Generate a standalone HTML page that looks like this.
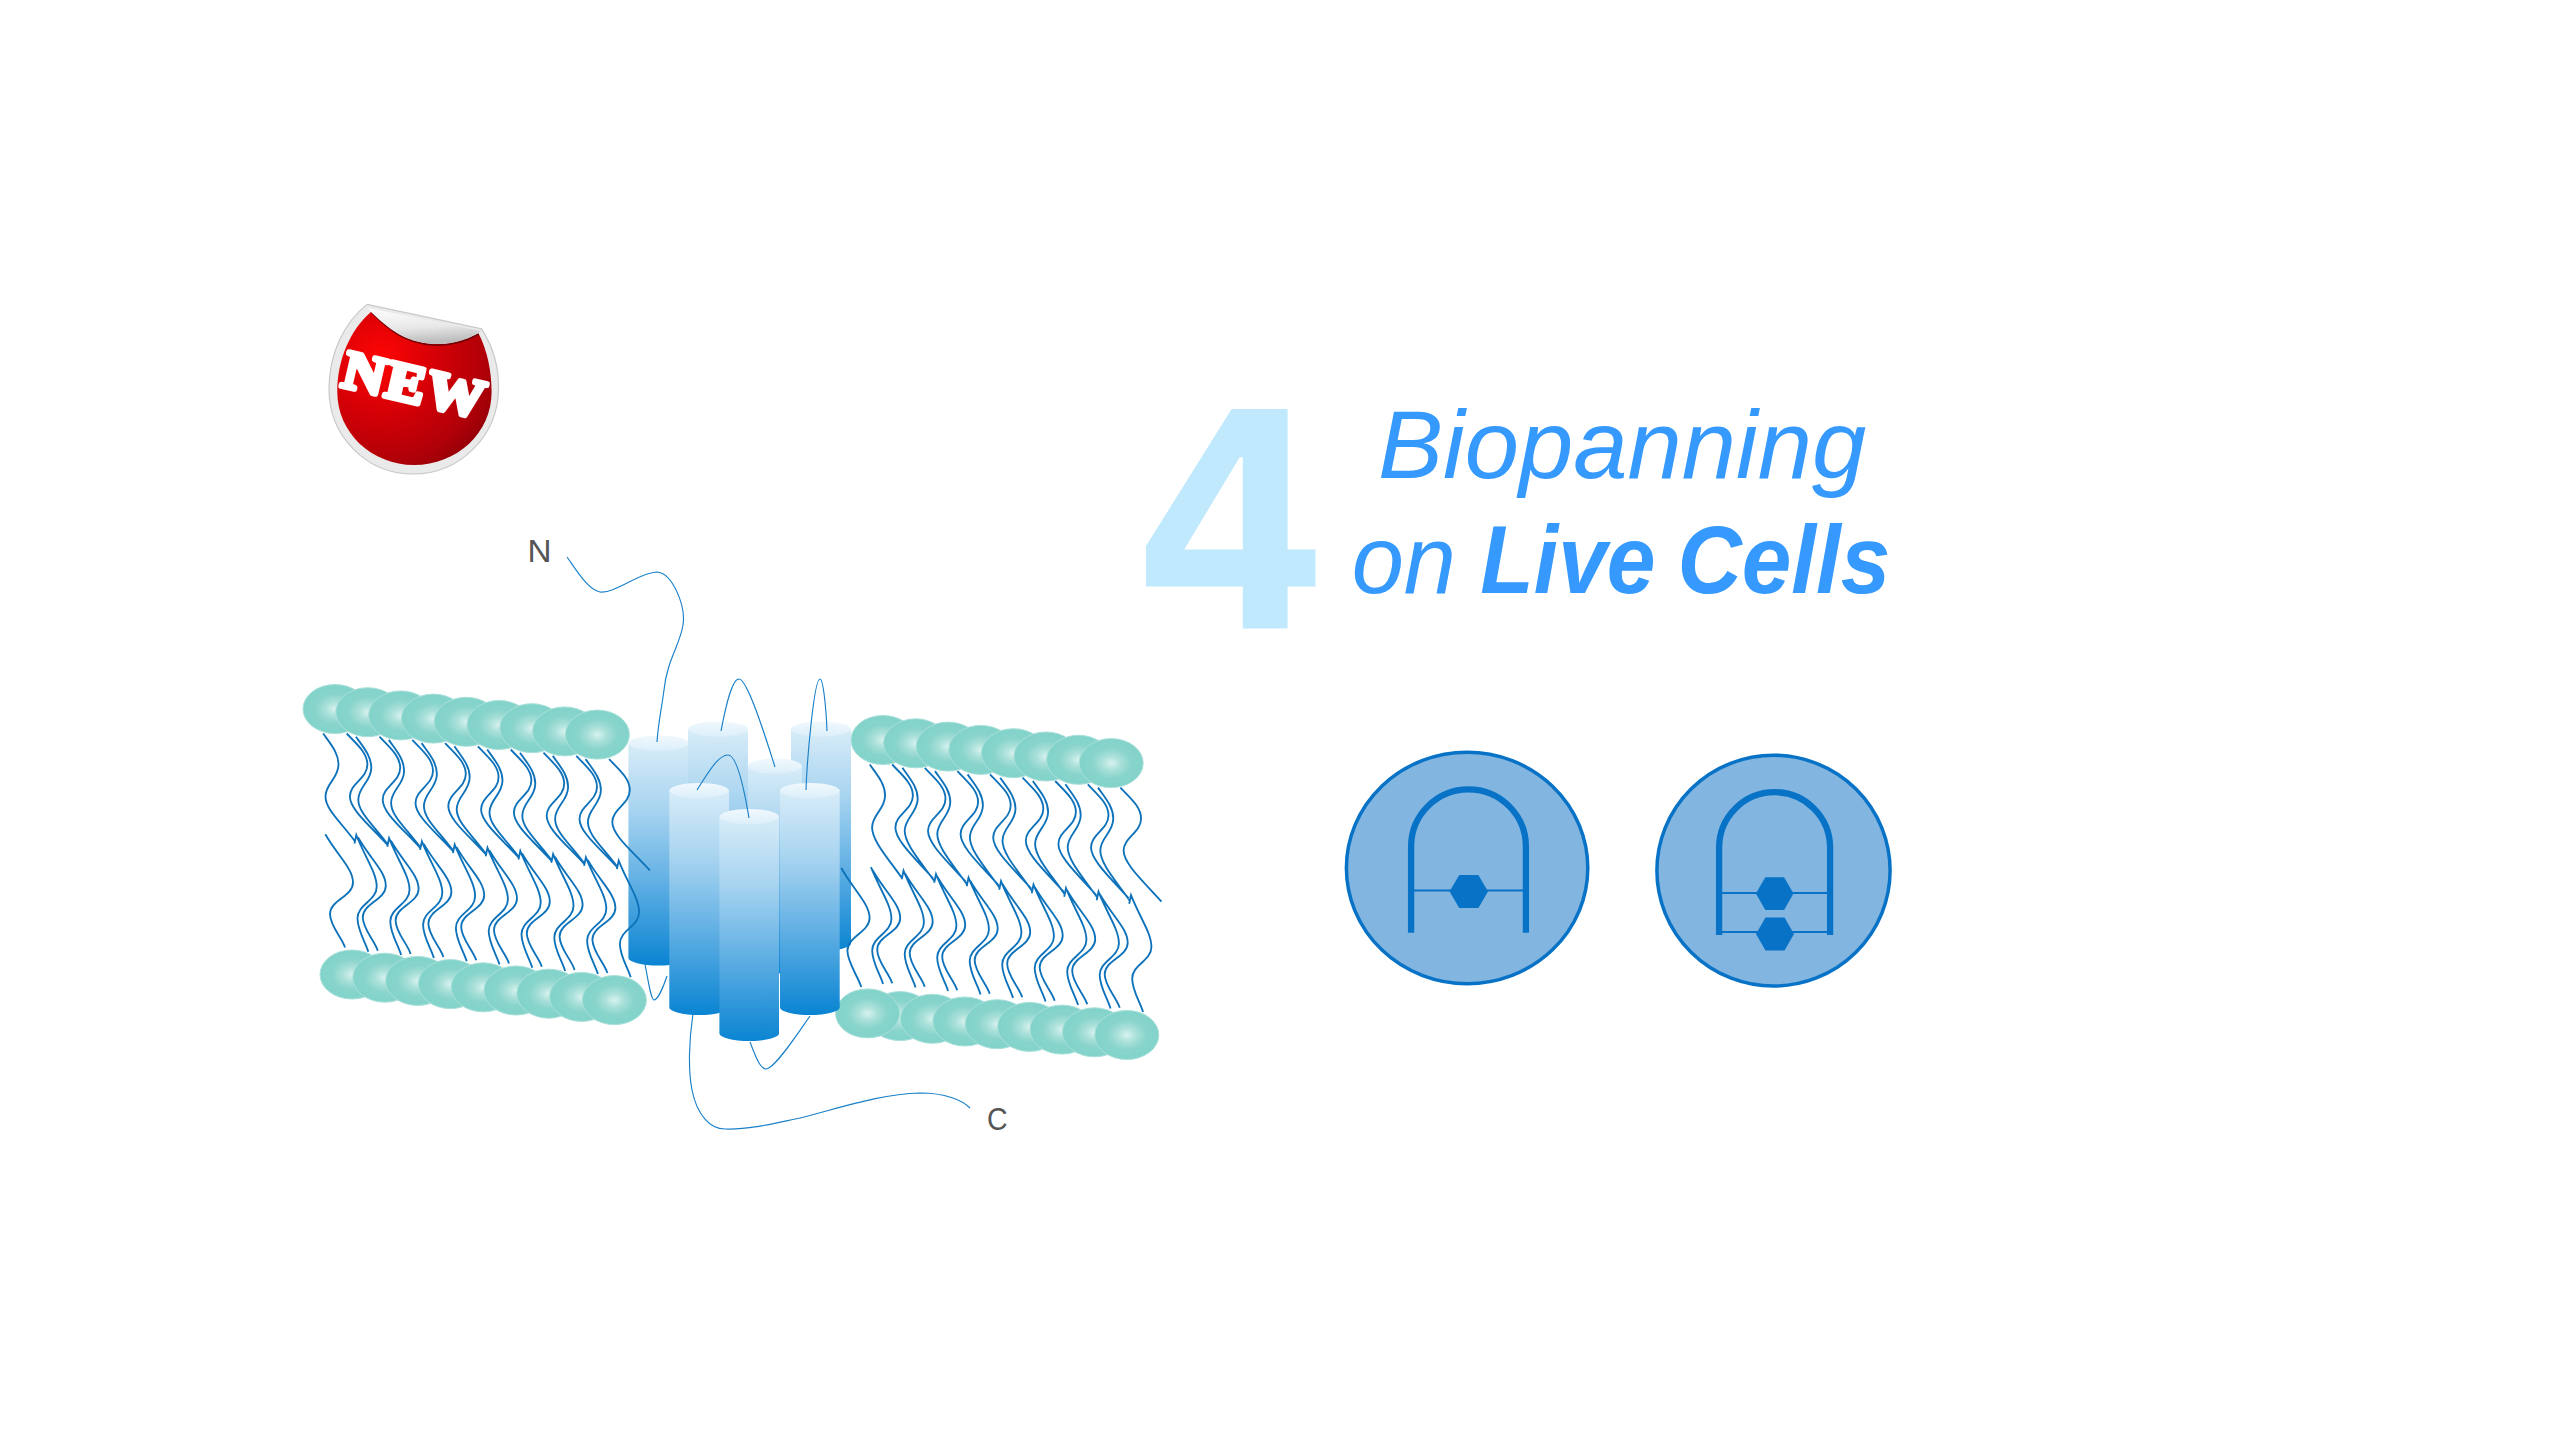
<!DOCTYPE html><html><head><meta charset="utf-8"><style>html,body{margin:0;padding:0;background:#fff;}body{width:2560px;height:1440px;overflow:hidden;} svg{display:block;}</style></head><body><svg width="2560" height="1440" viewBox="0 0 2560 1440">
<defs>
<radialGradient id="hg" cx="0.5" cy="0.5" r="0.5">
 <stop offset="0" stop-color="#D8F2EF"/>
 <stop offset="0.3" stop-color="#A9E0D9"/>
 <stop offset="0.62" stop-color="#88D4CB"/>
 <stop offset="1" stop-color="#82D3CA"/>
</radialGradient>
<linearGradient id="cg" x1="0" y1="0" x2="0" y2="1">
 <stop offset="0" stop-color="#D8ECF8"/>
 <stop offset="0.3" stop-color="#A8D4F0"/>
 <stop offset="0.62" stop-color="#62B0E4"/>
 <stop offset="1" stop-color="#0A84D2"/>
</linearGradient>
<linearGradient id="ctg" x1="0" y1="0" x2="0" y2="1">
 <stop offset="0" stop-color="#F0F8FD"/>
 <stop offset="1" stop-color="#DDEFFA"/>
</linearGradient>
<radialGradient id="red" cx="0.28" cy="0.3" r="0.85">
 <stop offset="0" stop-color="#FF0505"/>
 <stop offset="0.45" stop-color="#D20006"/>
 <stop offset="0.8" stop-color="#B00008"/>
 <stop offset="1" stop-color="#8E0008"/>
</radialGradient>
<linearGradient id="curl" x1="0" y1="0" x2="0.2" y2="1">
 <stop offset="0" stop-color="#FFFFFF"/>
 <stop offset="0.6" stop-color="#E8E8E8"/>
 <stop offset="1" stop-color="#BDBDBD"/>
</linearGradient>
</defs>
<path d="M628.4,743 L628.4,958 A30.15,7.5 0 0 0 688.6999999999999,958 L688.6999999999999,743 Z" fill="url(#cg)"/><ellipse cx="658.55" cy="743" rx="30.15" ry="7.5" fill="url(#ctg)"/>
<path d="M688,729 L688,959 A30.0,7.5 0 0 0 748,959 L748,729 Z" fill="url(#cg)"/><ellipse cx="718.0" cy="729" rx="30.0" ry="7.5" fill="url(#ctg)"/>
<path d="M791,729 L791,943.5 A30.0,7.5 0 0 0 851,943.5 L851,729 Z" fill="url(#cg)"/><ellipse cx="821.0" cy="729" rx="30.0" ry="7.5" fill="url(#ctg)"/>
<path d="M748,766 L748,966 A27.0,7.5 0 0 0 802,966 L802,766 Z" fill="url(#cg)"/><ellipse cx="775.0" cy="766" rx="27.0" ry="7.5" fill="url(#ctg)"/>
<path d="M323.2,733.5 C330.1,743.5 338.5,752.5 338.5,764.5 C338.5,778.5 325.5,783.5 325.5,796.5 C325.5,809.5 340.5,821.6 354.7,841.0 M346.7,733.5 C356.0,743.5 367.4,752.5 367.4,764.5 C367.4,778.5 349.9,783.5 349.9,796.5 C349.9,809.5 369.1,824.8 387.5,844.8 M356.0,736.7 C362.9,746.7 371.3,755.7 371.3,767.7 C371.3,781.7 358.3,786.7 358.3,799.7 C358.3,812.7 373.3,824.9 387.5,844.2 M379.5,736.7 C388.8,746.7 400.2,755.7 400.2,767.7 C400.2,781.7 382.7,786.7 382.7,799.7 C382.7,812.7 401.9,828.0 420.3,848.0 M388.8,739.9 C395.7,749.9 404.1,758.9 404.1,770.9 C404.1,784.9 391.1,789.9 391.1,802.9 C391.1,815.9 406.1,828.0 420.3,847.4 M412.3,739.9 C421.6,749.9 433.0,758.9 433.0,770.9 C433.0,784.9 415.5,789.9 415.5,802.9 C415.5,815.9 434.7,831.2 453.1,851.2 M421.6,743.1 C428.5,753.1 436.9,762.1 436.9,774.1 C436.9,788.1 423.9,793.1 423.9,806.1 C423.9,819.1 438.9,831.2 453.1,850.6 M445.1,743.1 C454.4,753.1 465.8,762.1 465.8,774.1 C465.8,788.1 448.3,793.1 448.3,806.1 C448.3,819.1 467.5,834.4 485.9,854.4 M454.4,746.3 C461.3,756.3 469.7,765.3 469.7,777.3 C469.7,791.3 456.7,796.3 456.7,809.3 C456.7,822.3 471.7,834.4 485.9,853.8 M477.9,746.3 C487.2,756.3 498.6,765.3 498.6,777.3 C498.6,791.3 481.1,796.3 481.1,809.3 C481.1,822.3 500.3,837.6 518.7,857.6 M487.2,749.5 C494.1,759.5 502.5,768.5 502.5,780.5 C502.5,794.5 489.5,799.5 489.5,812.5 C489.5,825.5 504.5,837.6 518.7,857.0 M510.7,749.5 C520.0,759.5 531.4,768.5 531.4,780.5 C531.4,794.5 513.9,799.5 513.9,812.5 C513.9,825.5 533.1,840.8 551.5,860.8 M520.0,752.7 C526.9,762.7 535.3,771.7 535.3,783.7 C535.3,797.7 522.3,802.7 522.3,815.7 C522.3,828.7 537.3,840.9 551.5,860.2 M543.5,752.7 C552.8,762.7 564.2,771.7 564.2,783.7 C564.2,797.7 546.7,802.7 546.7,815.7 C546.7,828.7 565.9,844.0 584.3,864.0 M552.8,755.9 C559.7,765.9 568.1,774.9 568.1,786.9 C568.1,800.9 555.1,805.9 555.1,818.9 C555.1,831.9 570.1,844.0 584.3,863.4 M576.3,755.9 C585.6,765.9 597.0,774.9 597.0,786.9 C597.0,800.9 579.5,805.9 579.5,818.9 C579.5,831.9 598.7,847.2 617.1,867.2 M585.6,759.1 C592.5,769.1 600.9,778.1 600.9,790.1 C600.9,804.1 587.9,809.1 587.9,822.1 C587.9,835.1 602.9,847.2 617.1,866.6 M609.1,759.1 C618.4,769.1 629.8,778.1 629.8,790.1 C629.8,804.1 612.3,809.1 612.3,822.1 C612.3,835.1 631.5,850.4 649.9,870.4 M325.3,834.3 C337.8,856.0 353.0,868.5 353.0,882.5 C353.0,896.5 330.0,900.0 330.0,914.0 C330.0,926.0 342.0,937.5 345.0,947.5 M354.5,843.5 L356.3,835.0 C365.5,858.3 376.7,872.7 376.7,886.7 C376.7,900.7 357.5,904.3 357.5,918.3 C357.5,930.3 365.3,941.7 368.3,951.7 M358.1,837.5 C370.6,859.2 385.8,871.7 385.8,885.7 C385.8,899.7 362.8,903.2 362.8,917.2 C362.8,929.2 374.8,940.7 377.8,950.7 M387.3,846.7 L389.1,838.2 C398.3,861.5 409.5,875.9 409.5,889.9 C409.5,903.9 390.3,907.5 390.3,921.5 C390.3,933.5 398.1,944.9 401.1,954.9 M390.9,840.7 C403.4,862.4 418.6,874.9 418.6,888.9 C418.6,902.9 395.6,906.4 395.6,920.4 C395.6,932.4 407.6,943.9 410.6,953.9 M420.1,849.9 L421.9,841.4 C431.1,864.7 442.3,879.1 442.3,893.1 C442.3,907.1 423.1,910.7 423.1,924.7 C423.1,936.7 430.9,948.1 433.9,958.1 M423.7,843.9 C436.2,865.6 451.4,878.1 451.4,892.1 C451.4,906.1 428.4,909.6 428.4,923.6 C428.4,935.6 440.4,947.1 443.4,957.1 M452.9,853.1 L454.7,844.6 C463.9,867.9 475.1,882.3 475.1,896.3 C475.1,910.3 455.9,913.9 455.9,927.9 C455.9,939.9 463.7,951.3 466.7,961.3 M456.5,847.1 C469.0,868.8 484.2,881.3 484.2,895.3 C484.2,909.3 461.2,912.8 461.2,926.8 C461.2,938.8 473.2,950.3 476.2,960.3 M485.7,856.3 L487.5,847.8 C496.7,871.1 507.9,885.5 507.9,899.5 C507.9,913.5 488.7,917.1 488.7,931.1 C488.7,943.1 496.5,954.5 499.5,964.5 M489.3,850.3 C501.8,872.0 517.0,884.5 517.0,898.5 C517.0,912.5 494.0,916.0 494.0,930.0 C494.0,942.0 506.0,953.5 509.0,963.5 M518.5,859.5 L520.3,851.0 C529.5,874.3 540.7,888.7 540.7,902.7 C540.7,916.7 521.5,920.3 521.5,934.3 C521.5,946.3 529.3,957.7 532.3,967.7 M522.1,853.5 C534.6,875.2 549.8,887.7 549.8,901.7 C549.8,915.7 526.8,919.2 526.8,933.2 C526.8,945.2 538.8,956.7 541.8,966.7 M551.3,862.7 L553.1,854.2 C562.3,877.5 573.5,891.9 573.5,905.9 C573.5,919.9 554.3,923.5 554.3,937.5 C554.3,949.5 562.1,960.9 565.1,970.9 M554.9,856.7 C567.4,878.4 582.6,890.9 582.6,904.9 C582.6,918.9 559.6,922.4 559.6,936.4 C559.6,948.4 571.6,959.9 574.6,969.9 M584.1,865.9 L585.9,857.4 C595.1,880.7 606.3,895.1 606.3,909.1 C606.3,923.1 587.1,926.7 587.1,940.7 C587.1,952.7 594.9,964.1 597.9,974.1 M587.7,859.9 C600.2,881.6 615.4,894.1 615.4,908.1 C615.4,922.1 592.4,925.6 592.4,939.6 C592.4,951.6 604.4,963.1 607.4,973.1 M616.9,869.1 L618.7,860.6 C627.9,883.9 639.1,898.3 639.1,912.3 C639.1,926.3 619.9,929.9 619.9,943.9 C619.9,955.9 627.7,967.3 630.7,977.3 M869.8,764.5 C876.7,774.5 885.1,783.5 885.1,795.5 C885.1,809.5 872.1,814.5 872.1,827.5 C872.1,840.5 887.2,857.2 901.5,877.5 M892.2,764.5 C901.5,774.5 912.9,783.5 912.9,795.5 C912.9,809.5 895.4,814.5 895.4,827.5 C895.4,840.5 914.8,858.0 933.2,878.5 M902.4,767.8 C909.3,777.8 917.7,786.8 917.7,798.8 C917.7,812.8 904.7,817.8 904.7,830.8 C904.7,843.8 919.8,860.5 934.1,880.8 M924.8,767.8 C934.1,777.8 945.5,786.8 945.5,798.8 C945.5,812.8 928.0,817.8 928.0,830.8 C928.0,843.8 947.4,861.3 965.8,881.8 M935.0,771.1 C941.9,781.1 950.3,790.1 950.3,802.1 C950.3,816.1 937.3,821.1 937.3,834.1 C937.3,847.1 952.4,863.8 966.7,884.1 M957.4,771.1 C966.7,781.1 978.1,790.1 978.1,802.1 C978.1,816.1 960.6,821.1 960.6,834.1 C960.6,847.1 980.0,864.6 998.4,885.1 M967.6,774.4 C974.5,784.4 982.9,793.4 982.9,805.4 C982.9,819.4 969.9,824.4 969.9,837.4 C969.9,850.4 985.0,867.1 999.3,887.4 M990.0,774.4 C999.3,784.4 1010.7,793.4 1010.7,805.4 C1010.7,819.4 993.2,824.4 993.2,837.4 C993.2,850.4 1012.5,867.9 1031.0,888.4 M1000.2,777.7 C1007.1,787.7 1015.5,796.7 1015.5,808.7 C1015.5,822.7 1002.5,827.7 1002.5,840.7 C1002.5,853.7 1017.6,870.4 1031.9,890.7 M1022.6,777.7 C1031.9,787.7 1043.3,796.7 1043.3,808.7 C1043.3,822.7 1025.8,827.7 1025.8,840.7 C1025.8,853.7 1045.2,871.2 1063.6,891.7 M1032.8,781.0 C1039.7,791.0 1048.1,800.0 1048.1,812.0 C1048.1,826.0 1035.1,831.0 1035.1,844.0 C1035.1,857.0 1050.2,873.7 1064.5,894.0 M1055.2,781.0 C1064.5,791.0 1075.9,800.0 1075.9,812.0 C1075.9,826.0 1058.4,831.0 1058.4,844.0 C1058.4,857.0 1077.8,874.5 1096.2,895.0 M1065.4,784.3 C1072.3,794.3 1080.7,803.3 1080.7,815.3 C1080.7,829.3 1067.7,834.3 1067.7,847.3 C1067.7,860.3 1082.8,877.0 1097.1,897.3 M1087.8,784.3 C1097.1,794.3 1108.5,803.3 1108.5,815.3 C1108.5,829.3 1091.0,834.3 1091.0,847.3 C1091.0,860.3 1110.3,877.8 1128.8,898.3 M1098.0,787.6 C1104.9,797.6 1113.3,806.6 1113.3,818.6 C1113.3,832.6 1100.3,837.6 1100.3,850.6 C1100.3,863.6 1115.4,880.3 1129.7,900.6 M1120.4,787.6 C1129.7,797.6 1141.1,806.6 1141.1,818.6 C1141.1,832.6 1123.6,837.6 1123.6,850.6 C1123.6,863.6 1143.0,881.1 1161.4,901.6 M841.3,868.0 C854.0,890.5 869.6,904.0 869.6,918.0 C869.6,932.0 847.4,936.6 847.4,950.6 C847.4,962.6 858.3,977.0 861.3,987.0 M871.0,867.2 C880.2,890.5 891.4,904.9 891.4,918.9 C891.4,932.9 872.2,936.5 872.2,950.5 C872.2,962.5 880.0,973.9 883.0,983.9 M872.5,870.0 C885.0,891.7 900.2,904.2 900.2,918.2 C900.2,932.2 877.2,935.7 877.2,949.7 C877.2,961.7 889.2,973.2 892.2,983.2 M901.7,879.2 L903.5,870.7 C912.7,894.0 923.9,908.4 923.9,922.4 C923.9,936.4 904.7,940.0 904.7,954.0 C904.7,966.0 912.5,977.4 915.5,987.4 M905.0,873.5 C917.5,895.2 932.7,907.7 932.7,921.7 C932.7,935.7 909.7,939.2 909.7,953.2 C909.7,965.2 921.7,976.7 924.7,986.7 M934.2,882.7 L936.0,874.2 C945.2,897.5 956.4,911.9 956.4,925.9 C956.4,939.9 937.2,943.5 937.2,957.5 C937.2,969.5 945.0,980.9 948.0,990.9 M937.5,877.0 C950.0,898.7 965.2,911.2 965.2,925.2 C965.2,939.2 942.2,942.7 942.2,956.7 C942.2,968.7 954.2,980.2 957.2,990.2 M966.7,886.2 L968.5,877.7 C977.7,901.0 988.9,915.4 988.9,929.4 C988.9,943.4 969.7,947.0 969.7,961.0 C969.7,973.0 977.5,984.4 980.5,994.4 M970.0,880.5 C982.5,902.2 997.7,914.7 997.7,928.7 C997.7,942.7 974.7,946.2 974.7,960.2 C974.7,972.2 986.7,983.7 989.7,993.7 M999.2,889.7 L1001.0,881.2 C1010.2,904.5 1021.4,918.9 1021.4,932.9 C1021.4,946.9 1002.2,950.5 1002.2,964.5 C1002.2,976.5 1010.0,987.9 1013.0,997.9 M1002.5,884.0 C1015.0,905.7 1030.2,918.2 1030.2,932.2 C1030.2,946.2 1007.2,949.7 1007.2,963.7 C1007.2,975.7 1019.2,987.2 1022.2,997.2 M1031.7,893.2 L1033.5,884.7 C1042.7,908.0 1053.9,922.4 1053.9,936.4 C1053.9,950.4 1034.7,954.0 1034.7,968.0 C1034.7,980.0 1042.5,991.4 1045.5,1001.4 M1035.0,887.5 C1047.5,909.2 1062.7,921.7 1062.7,935.7 C1062.7,949.7 1039.7,953.2 1039.7,967.2 C1039.7,979.2 1051.7,990.7 1054.7,1000.7 M1064.2,896.7 L1066.0,888.2 C1075.2,911.5 1086.4,925.9 1086.4,939.9 C1086.4,953.9 1067.2,957.5 1067.2,971.5 C1067.2,983.5 1075.0,994.9 1078.0,1004.9 M1067.5,891.0 C1080.0,912.7 1095.2,925.2 1095.2,939.2 C1095.2,953.2 1072.2,956.7 1072.2,970.7 C1072.2,982.7 1084.2,994.2 1087.2,1004.2 M1096.7,900.2 L1098.5,891.7 C1107.7,915.0 1118.9,929.4 1118.9,943.4 C1118.9,957.4 1099.7,961.0 1099.7,975.0 C1099.7,987.0 1107.5,998.4 1110.5,1008.4 M1100.0,894.5 C1112.5,916.2 1127.7,928.7 1127.7,942.7 C1127.7,956.7 1104.7,960.2 1104.7,974.2 C1104.7,986.2 1116.7,997.7 1119.7,1007.7 M1129.2,903.7 L1131.0,895.2 C1140.2,918.5 1151.4,932.9 1151.4,946.9 C1151.4,960.9 1132.2,964.5 1132.2,978.5 C1132.2,990.5 1140.0,1001.9 1143.0,1011.9" fill="none" stroke="#0D72BA" stroke-width="1.85"/>
<ellipse cx="335.0" cy="709.0" rx="32" ry="24.5" fill="url(#hg)" stroke="#A9E0DA" stroke-width="1"/>
<ellipse cx="367.8" cy="712.2" rx="32" ry="24.5" fill="url(#hg)" stroke="#A9E0DA" stroke-width="1"/>
<ellipse cx="400.6" cy="715.4" rx="32" ry="24.5" fill="url(#hg)" stroke="#A9E0DA" stroke-width="1"/>
<ellipse cx="433.4" cy="718.6" rx="32" ry="24.5" fill="url(#hg)" stroke="#A9E0DA" stroke-width="1"/>
<ellipse cx="466.2" cy="721.8" rx="32" ry="24.5" fill="url(#hg)" stroke="#A9E0DA" stroke-width="1"/>
<ellipse cx="499.0" cy="725.0" rx="32" ry="24.5" fill="url(#hg)" stroke="#A9E0DA" stroke-width="1"/>
<ellipse cx="531.8" cy="728.2" rx="32" ry="24.5" fill="url(#hg)" stroke="#A9E0DA" stroke-width="1"/>
<ellipse cx="564.6" cy="731.4" rx="32" ry="24.5" fill="url(#hg)" stroke="#A9E0DA" stroke-width="1"/>
<ellipse cx="597.4" cy="734.6" rx="32" ry="24.5" fill="url(#hg)" stroke="#A9E0DA" stroke-width="1"/>
<ellipse cx="352.0" cy="974.5" rx="32" ry="24.5" fill="url(#hg)" stroke="#A9E0DA" stroke-width="1"/>
<ellipse cx="384.8" cy="977.7" rx="32" ry="24.5" fill="url(#hg)" stroke="#A9E0DA" stroke-width="1"/>
<ellipse cx="417.6" cy="980.9" rx="32" ry="24.5" fill="url(#hg)" stroke="#A9E0DA" stroke-width="1"/>
<ellipse cx="450.4" cy="984.1" rx="32" ry="24.5" fill="url(#hg)" stroke="#A9E0DA" stroke-width="1"/>
<ellipse cx="483.2" cy="987.3" rx="32" ry="24.5" fill="url(#hg)" stroke="#A9E0DA" stroke-width="1"/>
<ellipse cx="516.0" cy="990.5" rx="32" ry="24.5" fill="url(#hg)" stroke="#A9E0DA" stroke-width="1"/>
<ellipse cx="548.8" cy="993.7" rx="32" ry="24.5" fill="url(#hg)" stroke="#A9E0DA" stroke-width="1"/>
<ellipse cx="581.6" cy="996.9" rx="32" ry="24.5" fill="url(#hg)" stroke="#A9E0DA" stroke-width="1"/>
<ellipse cx="614.4" cy="1000.1" rx="32" ry="24.5" fill="url(#hg)" stroke="#A9E0DA" stroke-width="1"/>
<ellipse cx="883.0" cy="740.0" rx="32" ry="24.5" fill="url(#hg)" stroke="#A9E0DA" stroke-width="1"/>
<ellipse cx="915.6" cy="743.3" rx="32" ry="24.5" fill="url(#hg)" stroke="#A9E0DA" stroke-width="1"/>
<ellipse cx="948.2" cy="746.6" rx="32" ry="24.5" fill="url(#hg)" stroke="#A9E0DA" stroke-width="1"/>
<ellipse cx="980.8" cy="749.9" rx="32" ry="24.5" fill="url(#hg)" stroke="#A9E0DA" stroke-width="1"/>
<ellipse cx="1013.4" cy="753.2" rx="32" ry="24.5" fill="url(#hg)" stroke="#A9E0DA" stroke-width="1"/>
<ellipse cx="1046.0" cy="756.5" rx="32" ry="24.5" fill="url(#hg)" stroke="#A9E0DA" stroke-width="1"/>
<ellipse cx="1078.6" cy="759.8" rx="32" ry="24.5" fill="url(#hg)" stroke="#A9E0DA" stroke-width="1"/>
<ellipse cx="1111.2" cy="763.1" rx="32" ry="24.5" fill="url(#hg)" stroke="#A9E0DA" stroke-width="1"/>
<ellipse cx="900.0" cy="1016.1" rx="32" ry="24.5" fill="url(#hg)" stroke="#A9E0DA" stroke-width="1"/>
<ellipse cx="932.4" cy="1018.8" rx="32" ry="24.5" fill="url(#hg)" stroke="#A9E0DA" stroke-width="1"/>
<ellipse cx="964.8" cy="1021.5" rx="32" ry="24.5" fill="url(#hg)" stroke="#A9E0DA" stroke-width="1"/>
<ellipse cx="997.2" cy="1024.2" rx="32" ry="24.5" fill="url(#hg)" stroke="#A9E0DA" stroke-width="1"/>
<ellipse cx="1029.6" cy="1026.9" rx="32" ry="24.5" fill="url(#hg)" stroke="#A9E0DA" stroke-width="1"/>
<ellipse cx="1062.0" cy="1029.6" rx="32" ry="24.5" fill="url(#hg)" stroke="#A9E0DA" stroke-width="1"/>
<ellipse cx="1094.4" cy="1032.3" rx="32" ry="24.5" fill="url(#hg)" stroke="#A9E0DA" stroke-width="1"/>
<ellipse cx="1126.8" cy="1035.0" rx="32" ry="24.5" fill="url(#hg)" stroke="#A9E0DA" stroke-width="1"/>
<ellipse cx="867.6" cy="1013.4" rx="32" ry="24.5" fill="url(#hg)" stroke="#A9E0DA" stroke-width="1"/>
<path d="M669.3,790.5 L669.3,1007.5 A29.85,7.5 0 0 0 729.0,1007.5 L729.0,790.5 Z" fill="url(#cg)"/><ellipse cx="699.15" cy="790.5" rx="29.85" ry="7.5" fill="url(#ctg)"/>
<path d="M780,790.5 L780,1007.5 A29.85,7.5 0 0 0 839.7,1007.5 L839.7,790.5 Z" fill="url(#cg)"/><ellipse cx="809.85" cy="790.5" rx="29.85" ry="7.5" fill="url(#ctg)"/>
<path d="M719.4,816.5 L719.4,1033.5 A29.8,7.5 0 0 0 779.0,1033.5 L779.0,816.5 Z" fill="url(#cg)"/><ellipse cx="749.1999999999999" cy="816.5" rx="29.8" ry="7.5" fill="url(#ctg)"/>
<path d="M567,557 C575,568 588,590 600,592 C615,594 640,572 657,572 C672,573 686,605 683,625 C680,645 667,660 664,690 C661,712 658,725 657,742 M721,731 C726,705 732,679 739,679 C748,679 768,745 775,767 M827,731 C826,705 823,679 820,679 C814,679 807,760 806,790 M697,790 C705,778 717,755 728,755 C738,755 746,800 749,818 M645,964 C648,980 651,1000 654,1000 C658,1000 664,985 667,976 M693,1014 C689,1040 688,1070 692,1090 C697,1115 710,1129 725,1129 C750,1130 780,1122 800,1118 C840,1108 880,1094 920,1093 C945,1093 962,1100 970,1108 M750,1042 C755,1055 760,1069 766,1069 C775,1069 800,1030 810,1016" fill="none" stroke="#1A80C9" stroke-width="1.15"/>
<text x="527.4" y="562" style="font-family:Liberation Sans,sans-serif" font-size="32" transform="translate(527.4,562) scale(1.04,1) translate(-527.4,-562)" fill="#555555">N</text>
<text x="987" y="1130" style="font-family:Liberation Sans,sans-serif" font-size="31" transform="translate(987,1130) scale(0.92,1) translate(-987,-1130)" fill="#555555">C</text>
<path d="M1231.6,408.9 L1287.6,408.9 L1287.6,549.5 L1315.4,549.5 L1315.4,586.5 L1287.6,586.5 L1287.6,628.5 L1242.8,628.5 L1242.8,586.5 L1146,586.5 L1146,546 Z M1239.7,457.2 L1242.8,457.2 L1242.8,549.5 L1184.2,549.5 Z" fill="#C0E9FD" fill-rule="evenodd"/>
<text x="0" y="0" transform="translate(1378.00,477.7) scale(1.0060,1)" style="font-family:'Liberation Sans',sans-serif;font-style:italic;font-weight:normal" font-size="97" fill="#3599FD">Biopanning</text>
<text x="0" y="0" transform="translate(1351.70,593) scale(0.9670,1)" style="font-family:'Liberation Sans',sans-serif;font-style:italic;font-weight:normal" font-size="97" fill="#3599FD">on</text>
<text x="0" y="0" transform="translate(1480.30,593) scale(0.9030,1)" style="font-family:'Liberation Sans',sans-serif;font-style:italic;font-weight:bold" font-size="97" fill="#3599FD">Live</text>
<text x="0" y="0" transform="translate(1677.40,593) scale(0.9190,1)" style="font-family:'Liberation Sans',sans-serif;font-style:italic;font-weight:bold" font-size="97" fill="#3599FD">Cells</text>
<ellipse cx="1467.1" cy="868" rx="120.7" ry="115.7" fill="#82B5E0" stroke="#0873C6" stroke-width="3.5"/><path d="M1411.1,932.7 L1411.1,846.7 A57.4,57.4 0 0 1 1525.9,846.7 L1525.9,932.7" fill="none" stroke="#0873C6" stroke-width="6.3"/><line x1="1411.1" y1="890.5" x2="1525.9" y2="890.5" stroke="#0873C6" stroke-width="2"/><polygon points="1488.0,891.5 1478.4,908.1 1459.2,908.1 1449.6,891.5 1459.2,874.9 1478.4,874.9" fill="#0873C6"/>
<ellipse cx="1773.5" cy="870.6" rx="116.6" ry="115.4" fill="#82B5E0" stroke="#0873C6" stroke-width="3.5"/><path d="M1719.1,935 L1719.1,847.6 A55.5,55.5 0 0 1 1830.1,847.6 L1830.1,935" fill="none" stroke="#0873C6" stroke-width="6.3"/><line x1="1719.1" y1="892.9" x2="1830.1" y2="892.9" stroke="#0873C6" stroke-width="2"/><line x1="1719.1" y1="932" x2="1830.1" y2="932" stroke="#0873C6" stroke-width="2"/><polygon points="1793.5,893.6 1784.1,909.9 1765.3,909.9 1755.9,893.6 1765.3,877.3 1784.1,877.3" fill="#0873C6"/><polygon points="1794.0,934.0 1784.5,950.5 1765.5,950.5 1756.0,934.0 1765.5,917.5 1784.5,917.5" fill="#0873C6"/>
<g>
<path d="M367,304.4 L481.6,328.9 C492,345 499,365 498.5,389 C498,436 460,474 413,474 C366,474 329,436 329,389 C329,352 345,322 367,304.4 Z" fill="#EAEAEA" stroke="#C9C9C9" stroke-width="1.2"/>
<path d="M371,312 C390,330 405,342 433,344 C455,345 470,338 478.6,333.5 C487,350 491.6,370 491.6,392 C491.6,433 457,465 414,465 C372,465 337.3,433 337.3,392 C337.3,360 350,330 371,312 Z" fill="url(#red)"/>
<path d="M371,312 C390,331 405,343 433,345 C455,346 470,339 478.6,334" fill="none" stroke="#5A0004" stroke-width="1.6" opacity="0.8"/>
<path d="M368,308 L481,331 C470,338 455,345 433,344 C405,342 390,330 371,312 Z" fill="url(#curl)"/>
<text x="0" y="0" transform="translate(340,386) rotate(13) scale(1.08,1)" style="font-family:Liberation Serif,serif;font-weight:bold" font-size="54" fill="#FFFFFF" stroke="#FFFFFF" stroke-width="5" stroke-linejoin="round" letter-spacing="2">NEW</text>
</g>
</svg></body></html>
